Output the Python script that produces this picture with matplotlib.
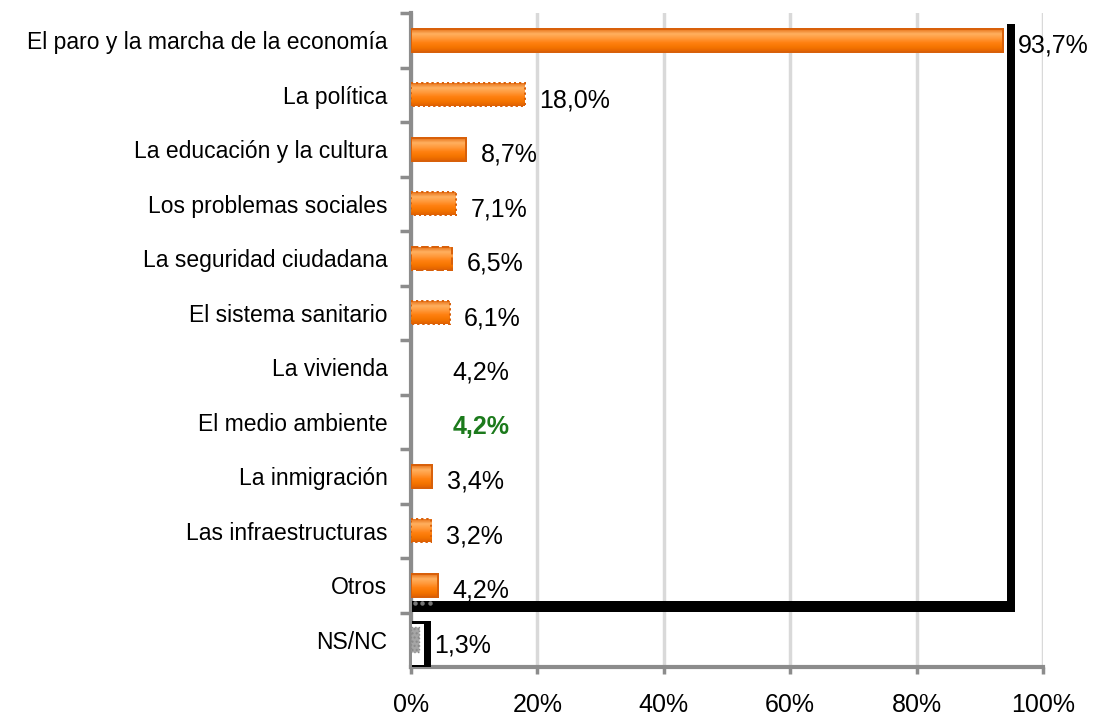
import matplotlib
matplotlib.use("Agg")
import matplotlib.pyplot as plt
from matplotlib.patches import Rectangle
from matplotlib.colors import LinearSegmentedColormap
import numpy as np

categories = [
    "El paro y la marcha de la economía",
    "La política",
    "La educación y la cultura",
    "Los problemas sociales",
    "La seguridad ciudadana",
    "El sistema sanitario",
    "La vivienda",
    "El medio ambiente",
    "La inmigración",
    "Las infraestructuras",
    "Otros",
    "NS/NC",
]
values = [93.7, 18.0, 8.7, 7.1, 6.5, 6.1, 4.2, 4.2, 3.4, 3.2, 4.2, 1.3]
value_labels = ["93,7%", "18,0%", "8,7%", "7,1%", "6,5%", "6,1%", "4,2%", "4,2%",
                "3,4%", "3,2%", "4,2%", "1,3%"]
xticks = [0, 20, 40, 60, 80, 100]
xtick_labels = ["0%", "20%", "40%", "60%", "80%", "100%"]

# styling
hidden = {"La vivienda", "El medio ambiente"}
edge_styles = ["-", ":", "-", ":", "--", ":", "-", "-", "-", ":", "-", ":"]
FONT = "Liberation Sans"
ORANGE = "#F5791A"
ORANGE_EDGE = "#D8600A"
GRAY = "#8c8c8c"
grad_cmap = LinearSegmentedColormap.from_list(
    "bar", ["#E8741A", "#FFB060", "#FF9A3C", "#FF8010", "#F57500", "#E06000"])

plt.rcParams["font.family"] = [FONT, "DejaVu Sans"]

fig = plt.figure(figsize=(10.96, 7.20), dpi=100)
ax = fig.add_axes([411 / 1096, 1 - 667 / 720, (1043 - 411) / 1096, (667 - 13) / 720])

y = np.arange(len(categories))
h = 0.42
grad = np.linspace(0, 1, 64).reshape(-1, 1)

for i, (cat, v) in enumerate(zip(categories, values)):
    if cat in hidden or cat == "NS/NC":
        continue
    bars = ax.barh(y[i], v, height=h, color=ORANGE, edgecolor=ORANGE_EDGE,
                   linewidth=1.4, linestyle=edge_styles[i], zorder=3)
    im = ax.imshow(grad, cmap=grad_cmap, aspect="auto", interpolation="bilinear",
                   extent=(0, v, y[i] + h / 2, y[i] - h / 2), origin="upper",
                   zorder=3.5)
    im.set_clip_path(bars[0])
    ax.barh(y[i], v, height=h, color="none", edgecolor=ORANGE_EDGE,
            linewidth=1.4, linestyle=edge_styles[i], zorder=4)

# NS/NC special shape
ins = categories.index("NS/NC")
ax.add_patch(Rectangle((0.15, ins - 0.35), 2.95, 0.85, facecolor="black",
                       edgecolor="none", zorder=5, clip_on=False))
ax.add_patch(Rectangle((0.15, ins - 0.29), 1.95, 0.75, facecolor="white",
                       edgecolor="none", zorder=6, clip_on=False))
ax.barh(y[ins], values[ins], height=0.45, color="#a6a6a6", edgecolor="#8a8a8a",
        linewidth=1.0, linestyle=":", hatch="....", zorder=7)

# black L-shaped frame
ax.add_patch(Rectangle((94.3, -0.294), 1.3, 10.78, facecolor="black",
                       edgecolor="none", zorder=5, clip_on=False))
ax.add_patch(Rectangle((0.15, 10.284), 95.45, 0.202, facecolor="black",
                       edgecolor="none", zorder=5, clip_on=False))
ax.plot([0.6, 1.8, 3.0], [10.33, 10.33, 10.33], "o", ms=2.2, color="#777777",
        zorder=6, clip_on=False)

# value labels
for i, (cat, v, lab) in enumerate(zip(categories, values, value_labels)):
    if cat == "El medio ambiente":
        color, weight = "#1c7a1c", "bold"
    else:
        color, weight = "black", "normal"
    ax.annotate(lab, xy=(v, y[i]), xytext=(10.5, -4), textcoords="offset points",
                ha="left", va="center", fontsize=18, color=color,
                fontweight=weight, zorder=8, annotation_clip=False)

ax.set_xlim(0, 100)
ax.set_ylim(len(categories) - 0.5, -0.5)

ax.set_xticks(xticks)
ax.set_xticklabels(xtick_labels, fontsize=18)
ax.set_yticks(y)
ax.set_yticklabels(categories, fontsize=16.5)
ax.set_yticks(np.arange(-0.5, len(categories) - 0.5, 1.0), minor=True)

ax.tick_params(axis="y", which="major", length=0, pad=17)
ax.tick_params(axis="y", which="minor", length=8, width=2.5, color=GRAY)
ax.tick_params(axis="x", which="major", length=5, width=2.5, color=GRAY, pad=14)

ax.grid(axis="x", color="#d9d9d9", linewidth=2.5, zorder=0)
ax.set_axisbelow(True)

for s in ["top", "right"]:
    ax.spines[s].set_visible(False)
for s in ["left", "bottom"]:
    ax.spines[s].set_color(GRAY)
    ax.spines[s].set_linewidth(3)

fig.savefig("out.png", dpi=100)
